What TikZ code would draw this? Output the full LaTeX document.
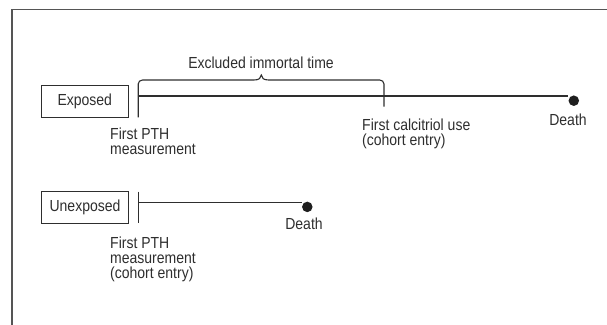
\documentclass[tikz,border=0pt]{standalone}
\usepackage{fontspec}
\setmainfont{Liberation Sans}[FakeStretch=0.875]
\definecolor{ink}{HTML}{2E2E2E}
\definecolor{framec}{HTML}{555555}
\tikzset{
  lbl/.style={inner sep=0pt, text=ink, font=\fontsize{16}{15}\selectfont, align=left},
  box/.style={draw=ink, line width=1.1pt, minimum width=86.5pt, minimum height=32.3pt, inner sep=0pt, text=ink, font=\fontsize{16}{15}\selectfont},
  tl/.style={draw=ink, line width=1.1pt},
  dot/.style={circle, fill=black!88, inner sep=0pt, minimum size=10.5pt},
  framebox/.style={draw=framec, line width=1.4pt}
}
\begin{document}
\begin{tikzpicture}[x=1pt,y=-1pt]
\useasboundingbox (0,0) rectangle (607,324);
\clip (0,0) rectangle (607,324);
\draw[framebox] (12,9.5) rectangle (650,370);

% Exposed row
\node[box] (exp) at (84.8,101.2) {Exposed};
\coordinate (s1) at (138.2,96);
\coordinate (b1) at (138.2,117.3);
\coordinate (c1) at (384,106.7);
\node[dot] (d1) at (573.8,100.7) {};
\draw[tl] (s1) -- (s1 -| d1.west);
\draw[tl] (b1) -- (138.2,84) to[out=90,in=180] (142.5,80) -- (254,80)
  .. controls (259,80) and (261.3,78) .. (261.3,75)
  .. controls (261.3,78) and (263.6,80) .. (268.6,80) -- (379.7,80)
  to[out=0,in=90] (384,84) -- (c1);
\node[lbl, anchor=base] (excl) at (261,68.5) {Excluded immortal time};
\node[lbl, anchor=base west] (pth1) at (110,154.5) {First PTH\\measurement};
\node[lbl, anchor=base west] (calc) at (362,145.7) {First calcitriol use\\(cohort entry)};
\node[lbl, anchor=base] (death1) at (568,125) {Death};

% Unexposed row
\node[box] (unexp) at (85,207.5) {Unexposed};
\coordinate (s2) at (138.6,202.3);
\coordinate (t2a) at (138.6,191.5);
\coordinate (t2b) at (138.6,223.3);
\node[dot] (d2) at (307.3,206.9) {};
\draw[tl] (t2a) -- (t2b);
\draw[tl] (s2) -- (s2 -| d2.west);
\node[lbl, anchor=base west] (pth2) at (110,278) {First PTH\\measurement\\(cohort entry)};
\node[lbl, anchor=base] (death2) at (304,229.3) {Death};
\end{tikzpicture}
\end{document}
